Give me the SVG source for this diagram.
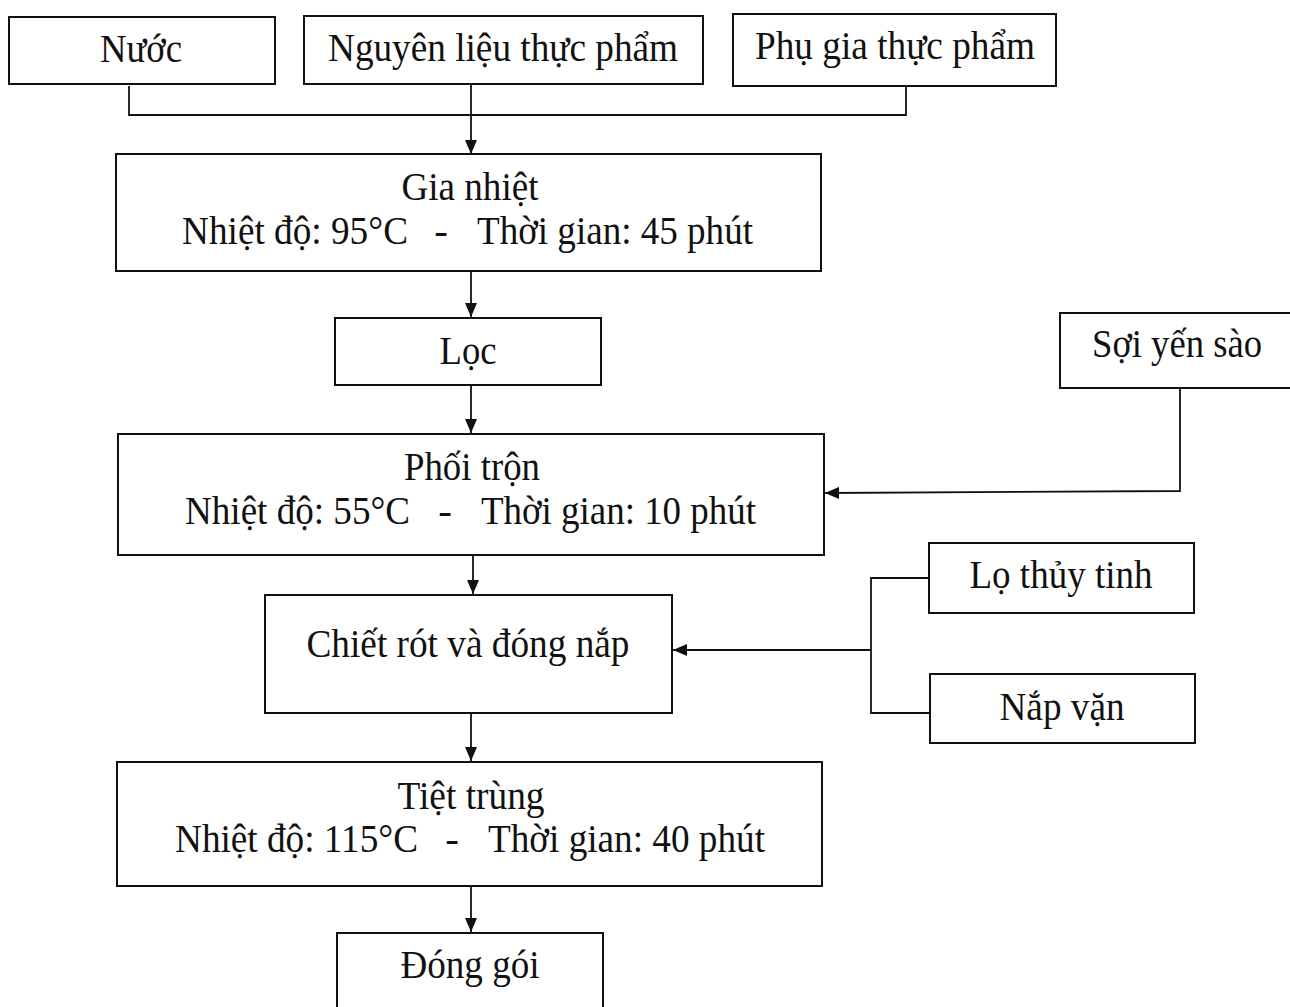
<svg xmlns="http://www.w3.org/2000/svg" width="1290" height="1007" viewBox="0 0 1290 1007">
<style>
.box{fill:#fff;stroke:#111;stroke-width:2}
.t{font-family:"Liberation Serif","Times New Roman",serif;font-size:41px;fill:#111;text-anchor:middle}
.tl{font-family:"Liberation Serif","Times New Roman",serif;font-size:41px;fill:#111}
.c{fill:none;stroke:#111;stroke-width:1.8}
</style>
<defs>
<marker id="ah" viewBox="0 0 14 12" refX="14" refY="6" markerWidth="14" markerHeight="12" markerUnits="userSpaceOnUse" orient="auto">
<path d="M0,0 L14,6 L0,12 Z" fill="#111"/>
</marker>
</defs>
<rect width="1290" height="1007" fill="#fff"/>
<g id="connectors">
<polyline class="c" points="129,86 129,115 906,115 906,86"/>
<line class="c" x1="471" y1="84" x2="471" y2="154" marker-end="url(#ah)"/>
<line class="c" x1="471" y1="271" x2="471" y2="317" marker-end="url(#ah)"/>
<line class="c" x1="471" y1="386" x2="471" y2="433" marker-end="url(#ah)"/>
<polyline class="c" points="1180,388 1180,491 825,493" marker-end="url(#ah)"/>
<line class="c" x1="473" y1="555" x2="473" y2="594" marker-end="url(#ah)"/>
<polyline class="c" points="929,578 871,578 871,713 930,713"/>
<line class="c" x1="871" y1="650" x2="673" y2="650" marker-end="url(#ah)"/>
<line class="c" x1="471" y1="713" x2="471" y2="761" marker-end="url(#ah)"/>
<line class="c" x1="471" y1="886" x2="471" y2="932" marker-end="url(#ah)"/>
</g>
<g id="nuoc">
<rect class="box" x="9" y="17" width="266" height="67"/>
<text class="t" x="141" y="62" textLength="82" lengthAdjust="spacingAndGlyphs">Nước</text>
</g>
<g id="nguyen-lieu">
<rect class="box" x="304" y="16" width="399" height="68"/>
<text class="t" x="503" y="61" textLength="350" lengthAdjust="spacingAndGlyphs">Nguyên liệu thực phẩm</text>
</g>
<g id="phu-gia">
<rect class="box" x="733" y="14" width="323" height="72"/>
<text class="t" x="895" y="59" textLength="280" lengthAdjust="spacingAndGlyphs">Phụ gia thực phẩm</text>
</g>
<g id="gia-nhiet">
<rect class="box" x="116" y="154" width="705" height="117"/>
<text class="t" x="470" y="200" textLength="137" lengthAdjust="spacingAndGlyphs">Gia nhiệt</text>
<text class="tl" x="182" y="244" textLength="226" lengthAdjust="spacingAndGlyphs">Nhiệt độ: 95°C</text>
<text class="t" x="441" y="244">-</text>
<text class="tl" x="477" y="244" textLength="276" lengthAdjust="spacingAndGlyphs">Thời gian: 45 phút</text>
</g>
<g id="loc">
<rect class="box" x="335" y="318" width="266" height="67"/>
<text class="t" x="468" y="364" textLength="57" lengthAdjust="spacingAndGlyphs">Lọc</text>
</g>
<g id="phoi-tron">
<rect class="box" x="118" y="434" width="706" height="121"/>
<text class="t" x="472" y="480" textLength="136" lengthAdjust="spacingAndGlyphs">Phối trộn</text>
<text class="tl" x="185" y="524" textLength="225" lengthAdjust="spacingAndGlyphs">Nhiệt độ: 55°C</text>
<text class="t" x="445" y="524">-</text>
<text class="tl" x="481" y="524" textLength="275" lengthAdjust="spacingAndGlyphs">Thời gian: 10 phút</text>
</g>
<g id="soi-yen-sao">
<rect class="box" x="1060" y="313" width="240" height="75"/>
<text class="t" x="1177" y="357" textLength="170" lengthAdjust="spacingAndGlyphs">Sợi yến sào</text>
</g>
<g id="chiet-rot">
<rect class="box" x="265" y="595" width="407" height="118"/>
<text class="t" x="468" y="657" textLength="323" lengthAdjust="spacingAndGlyphs">Chiết rót và đóng nắp</text>
</g>
<g id="lo-thuy-tinh">
<rect class="box" x="929" y="543" width="265" height="70"/>
<text class="t" x="1061" y="588" textLength="183" lengthAdjust="spacingAndGlyphs">Lọ thủy tinh</text>
</g>
<g id="nap-van">
<rect class="box" x="930" y="674" width="265" height="69"/>
<text class="t" x="1062" y="720" textLength="125" lengthAdjust="spacingAndGlyphs">Nắp vặn</text>
</g>
<g id="tiet-trung">
<rect class="box" x="117" y="762" width="705" height="124"/>
<text class="t" x="471" y="809" textLength="147" lengthAdjust="spacingAndGlyphs">Tiệt trùng</text>
<text class="tl" x="175" y="852" textLength="243" lengthAdjust="spacingAndGlyphs">Nhiệt độ: 115°C</text>
<text class="t" x="452" y="852">-</text>
<text class="tl" x="488" y="852" textLength="277" lengthAdjust="spacingAndGlyphs">Thời gian: 40 phút</text>
</g>
<g id="dong-goi">
<rect class="box" x="337" y="933" width="266" height="90"/>
<text class="t" x="470" y="978" textLength="139" lengthAdjust="spacingAndGlyphs">Đóng gói</text>
</g>
</svg>
